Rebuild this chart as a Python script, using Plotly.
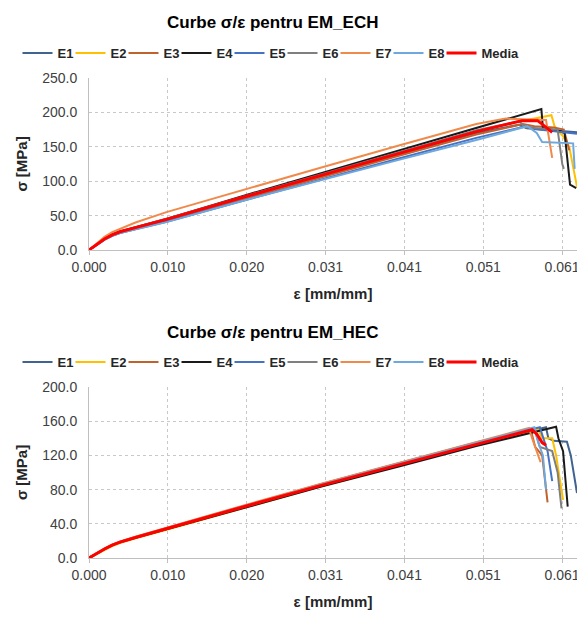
import plotly.graph_objects as go

# ---------------- data ----------------
SERIES = ["E1", "E2", "E3", "E4", "E5", "E6", "E7", "E8", "Media"]
COLORS = ["#41638F", "#FFC000", "#C0622C", "#1A1A1A", "#4472C4", "#7F7F7F", "#F08A4B", "#6FA8DC", "#FF0000"]

# common pre-peak strain grid [mm/mm]
EPS_PRE = [0.0, 0.001, 0.002, 0.003, 0.004, 0.006, 0.010, 0.020, 0.030, 0.040, 0.050]

# ---- EM_ECH : stress at EPS_PRE, then post-peak (strain, stress) points
ech_E1_pre = [0, 8.5, 16, 22, 26.5, 32.5, 44, 76, 108, 139, 170]
ech_E1_eps = [0.0555, 0.0565, 0.0600, 0.0630]
ech_E1_sig = [182, 177, 174, 171]

ech_E2_pre = [0, 8, 15.5, 21.5, 26, 32, 44, 77, 109, 141, 173]
ech_E2_eps = [0.0560, 0.0597, 0.0601, 0.0612, 0.0620, 0.0630]
ech_E2_sig = [188, 196, 180, 165, 150, 92]

ech_E3_pre = [0, 8, 15, 21, 25, 31, 42, 74, 106, 137, 168]
ech_E3_eps = [0.0560, 0.0575, 0.0600, 0.0613, 0.0620]
ech_E3_sig = [183, 180, 178, 175, 145]

ech_E4_pre = [0, 8.5, 16, 22.5, 27, 33, 45, 79, 112, 144, 177]
ech_E4_eps = [0.0584, 0.0586, 0.0608, 0.0614, 0.0621, 0.0629]
ech_E4_sig = [205, 177, 173, 170, 95, 90]

ech_E5_pre = [0, 8, 15, 20.5, 24.5, 30, 41, 72, 103, 133, 163]
ech_E5_eps = [0.0565, 0.0575, 0.0610, 0.0630]
ech_E5_sig = [180, 176, 172, 169]

ech_E6_pre = [0, 8.5, 16, 22, 26.5, 33, 45.5, 78, 110, 142, 174]
ech_E6_eps = [0.0555, 0.0565, 0.0605, 0.0611, 0.0613]
ech_E6_sig = [187, 178, 175, 125, 118]

ech_E7_pre = [0, 10, 19, 26, 31, 40, 55, 88, 120, 152, 183]
ech_E7_eps = [0.0538, 0.0590, 0.0598]
ech_E7_sig = [191, 189, 134]

ech_E8_pre = [0, 8, 15, 20.5, 24.5, 30, 40.5, 72, 102, 131, 160]
ech_E8_eps = [0.0566, 0.0578, 0.0585, 0.0625, 0.0627]
ech_E8_sig = [180, 170, 157, 155, 118]

ech_Media_pre = [0, 8.5, 16, 22, 26.5, 32.5, 44.5, 77, 109, 140, 172]
ech_Media_eps = [0.0559, 0.0579, 0.0585, 0.0598]
ech_Media_sig = [188, 188, 183, 171]

# ---- EM_HEC
hec_E1_pre = [0, 5.5, 10.5, 15, 18.5, 24, 34.5, 60, 85.5, 109.5, 133.5]
hec_E1_eps = [0.0590, 0.0593, 0.0600, 0.0617, 0.0622, 0.0630]
hec_E1_sig = [153, 140, 137, 136, 120, 76]

hec_E2_pre = [0, 5, 10, 14, 17.5, 23, 33, 58.5, 84, 108, 132]
hec_E2_eps = [0.0580, 0.0585, 0.0598, 0.0603, 0.0612]
hec_E2_sig = [151, 140, 140, 120, 68]

hec_E3_pre = [0, 6, 11, 15.5, 19, 24.5, 35, 61, 86.5, 111, 135]
hec_E3_eps = [0.0570, 0.0576, 0.0585, 0.0592]
hec_E3_sig = [151, 130, 120, 65]

hec_E4_pre = [0, 5.5, 10.5, 15, 18.5, 23.5, 33.5, 58.5, 83.5, 107, 131]
hec_E4_eps = [0.0603, 0.0606, 0.0612, 0.0618]
hec_E4_sig = [153.5, 140, 125, 60]

hec_E5_pre = [0, 5.5, 10.5, 15, 18.5, 24, 34.5, 60, 85.5, 110, 134]
hec_E5_eps = [0.0582, 0.0587, 0.0592, 0.0598]
hec_E5_sig = [153, 138, 125, 90]

hec_E6_pre = [0, 5.5, 10.5, 15, 18.5, 24, 34.5, 60, 85, 109, 133]
hec_E6_eps = [0.0575, 0.0582, 0.0598, 0.0605, 0.0610]
hec_E6_sig = [151, 130, 125, 100, 58]

hec_E7_pre = [0, 6, 11, 15.5, 19, 25, 35.5, 61.5, 87, 111.5, 135.5]
hec_E7_eps = [0.0568, 0.0572, 0.0578, 0.0583]
hec_E7_sig = [152, 140, 125, 112]

hec_E8_pre = [0, 5.5, 10.5, 15, 18.5, 24, 34.5, 60.5, 86, 110.5, 134.5]
hec_E8_eps = [0.0575, 0.0580, 0.0586, 0.0590]
hec_E8_sig = [153, 135, 120, 80]

hec_Media_pre = [0, 5.5, 10.5, 15, 18.5, 24, 34.5, 60, 85, 109, 133]
hec_Media_eps = [0.0572, 0.0578, 0.0585, 0.0590]
hec_Media_sig = [150, 145, 135, 132]

X_TICK0 = 0.0
X_DTICK = 0.01018
X_MAX = 0.0630

ECH = [
    (ech_E1_pre, ech_E1_eps, ech_E1_sig), (ech_E2_pre, ech_E2_eps, ech_E2_sig),
    (ech_E3_pre, ech_E3_eps, ech_E3_sig), (ech_E4_pre, ech_E4_eps, ech_E4_sig),
    (ech_E5_pre, ech_E5_eps, ech_E5_sig), (ech_E6_pre, ech_E6_eps, ech_E6_sig),
    (ech_E7_pre, ech_E7_eps, ech_E7_sig), (ech_E8_pre, ech_E8_eps, ech_E8_sig),
    (ech_Media_pre, ech_Media_eps, ech_Media_sig),
]
HEC = [
    (hec_E1_pre, hec_E1_eps, hec_E1_sig), (hec_E2_pre, hec_E2_eps, hec_E2_sig),
    (hec_E3_pre, hec_E3_eps, hec_E3_sig), (hec_E4_pre, hec_E4_eps, hec_E4_sig),
    (hec_E5_pre, hec_E5_eps, hec_E5_sig), (hec_E6_pre, hec_E6_eps, hec_E6_sig),
    (hec_E7_pre, hec_E7_eps, hec_E7_sig), (hec_E8_pre, hec_E8_eps, hec_E8_sig),
    (hec_Media_pre, hec_Media_eps, hec_Media_sig),
]

# ---------------- figure ----------------
OFF = 8                      # page body margin of the html page
W, H = 585 - OFF, 617 - OFF  # figure size so that it fits the window
FONT = "Liberation Sans, Arial, sans-serif"

fig = go.Figure()

for name, color, (pre, eps, sig) in zip(SERIES, COLORS, ECH):
    fig.add_trace(go.Scatter(
        x=EPS_PRE + eps, y=pre + sig, mode="lines", name=name,
        line=dict(color=color, width=3 if name == "Media" else 2),
        legendwidth=42 if name == "Media" else None,
        xaxis="x", yaxis="y", legend="legend"))

for name, color, (pre, eps, sig) in zip(SERIES, COLORS, HEC):
    fig.add_trace(go.Scatter(
        x=EPS_PRE + eps, y=pre + sig, mode="lines", name=name,
        line=dict(color=color, width=3 if name == "Media" else 2),
        legendwidth=42 if name == "Media" else None,
        xaxis="x2", yaxis="y2", legend="legend2"))


def px_x(p):
    return (p - OFF) / W


def px_y(p):
    return 1 - (p - OFF) / H


xdom = [px_x(89), px_x(577)]
axis_common = dict(
    showline=True, linecolor="#bfbfbf", linewidth=1,
    showgrid=True, gridcolor="#c8c8c8", griddash="dot", gridwidth=1,
    zeroline=False, automargin=False, ticklabeloverflow="allow",
    tickfont=dict(family=FONT, size=14, color="#404040"),
)
xaxis_common = dict(
    axis_common, range=[0, X_MAX], tick0=X_TICK0, dtick=X_DTICK, tickformat=".3f",
    ticks="outside", ticklen=4, tickcolor="#bfbfbf", domain=xdom,
    title=dict(text="ε [mm/mm]", font=dict(family=FONT, size=15, color="#262626", weight="bold"), standoff=14),
)
yaxis_common = dict(
    axis_common, tickformat=".1f", ticks="", ticklabelstandoff=8,
    title=dict(text="σ [MPa]", font=dict(family=FONT, size=15, color="#262626", weight="bold"), standoff=10),
)

legend_common = dict(
    orientation="h", xanchor="center", yanchor="middle",
    font=dict(family=FONT, size=13, color="#262626", weight="bold"),
    bgcolor="rgba(0,0,0,0)", entrywidth=8, itemclick=False,
)

fig.update_layout(
    width=W, height=H, template="none",
    paper_bgcolor="white", plot_bgcolor="white",
    margin=dict(l=0, r=0, t=0, b=0),
    showlegend=True,
    xaxis=dict(xaxis_common, anchor="y"),
    yaxis=dict(yaxis_common, range=[0, 250], dtick=50, domain=[px_y(250), px_y(78)], anchor="x"),
    xaxis2=dict(xaxis_common, anchor="y2"),
    yaxis2=dict(yaxis_common, range=[0, 200], dtick=40, domain=[px_y(558), px_y(387)], anchor="x2"),
    legend=dict(legend_common, x=px_x(273), y=px_y(53)),
    legend2=dict(legend_common, x=px_x(273), y=px_y(362)),
    annotations=[
        dict(text="Curbe σ/ε pentru EM_ECH", x=px_x(272), y=px_y(23), xref="paper", yref="paper",
             xanchor="center", yanchor="middle", showarrow=False,
             font=dict(family=FONT, size=17, color="#000000", weight="bold")),
        dict(text="Curbe σ/ε pentru EM_HEC", x=px_x(272), y=px_y(332), xref="paper", yref="paper",
             xanchor="center", yanchor="middle", showarrow=False,
             font=dict(family=FONT, size=17, color="#000000", weight="bold")),
    ],
)

fig.write_html("out.html")
